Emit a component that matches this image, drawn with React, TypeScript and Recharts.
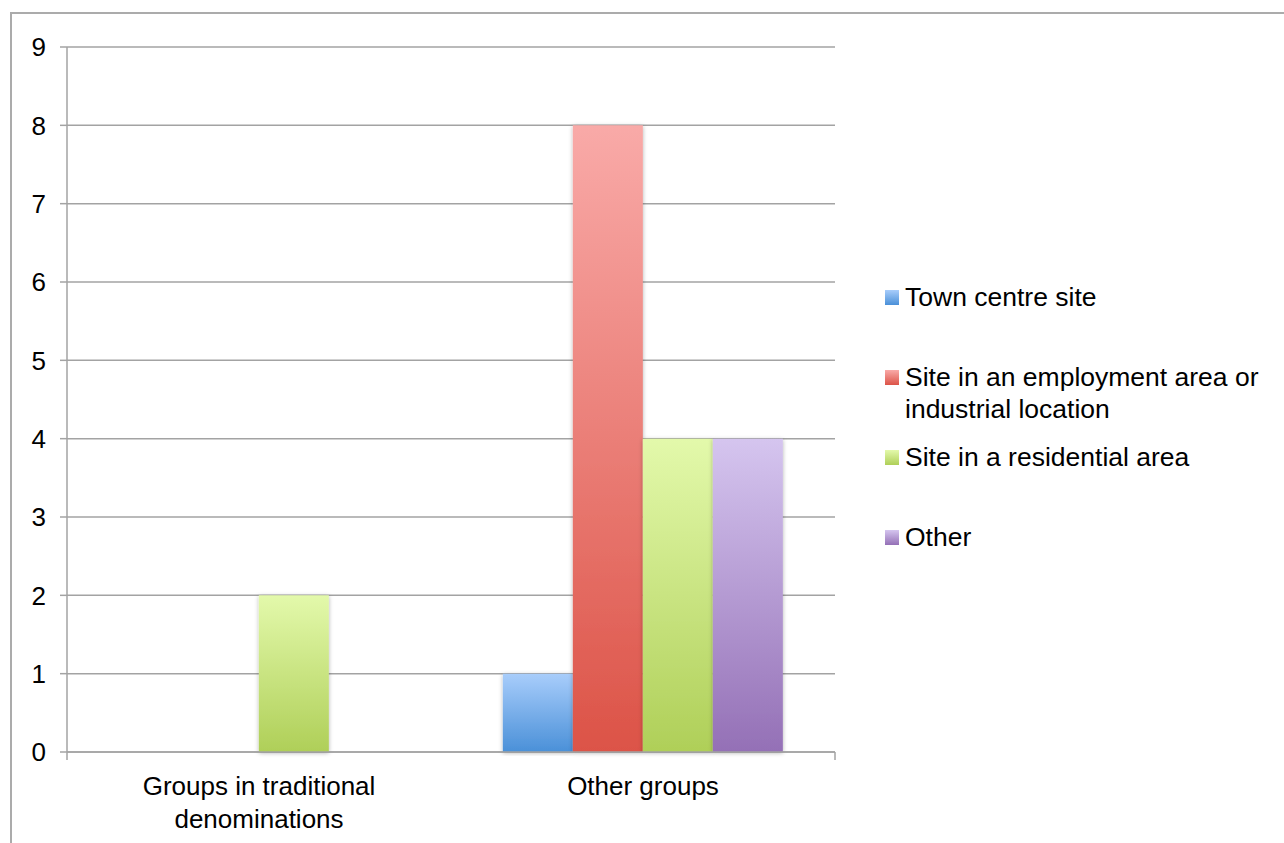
import React from 'react';
import { BarChart, Bar, XAxis, YAxis, CartesianGrid } from 'recharts';

const categories = ['Groups in traditional denominations', 'Other groups'];
const townCentre = [0, 1];
const employmentArea = [0, 8];
const residentialArea = [2, 4];
const otherSite = [0, 4];
const yTicks = [0, 1, 2, 3, 4, 5, 6, 7, 8, 9];

const seriesNames = [
  'Town centre site',
  'Site in an employment area or industrial location',
  'Site in a residential area',
  'Other',
];
const seriesKeys = ['town', 'employment', 'residential', 'other'];
// [top, bottom] of each bar's gradient
const seriesColors = [
  ['#a8cdfb', '#4a90d8'],
  ['#f9aaa8', '#dc5347'],
  ['#e3f9ab', '#afcf58'],
  ['#d5c5ef', '#9470b6'],
];

const data = categories.map((name, i) => ({
  name,
  town: townCentre[i],
  employment: employmentArea[i],
  residential: residentialArea[i],
  other: otherSite[i],
}));

const FONT = '"Liberation Sans", Arial, sans-serif';
const GRID = '#a3a3a3';

// greedy word wrap, roughly 22 chars per line
function wrap(label: string, max = 22): string[] {
  const lines: string[] = [];
  let cur = '';
  label.split(' ').forEach(w => {
    if (cur && (cur + ' ' + w).length > max) {
      lines.push(cur);
      cur = w;
    } else {
      cur = cur ? cur + ' ' + w : w;
    }
  });
  if (cur) lines.push(cur);
  return lines;
}

const CategoryTick = ({ x, y, payload }: any) => (
  <text x={x} y={y} textAnchor="middle" style={{ fontSize: 26, fontFamily: FONT, fill: '#000' }}>
    {wrap(String(payload.value)).map((line, i) => (
      <tspan key={i} x={x} dy={i === 0 ? 43 : 33}>
        {line}
      </tspan>
    ))}
  </text>
);

const LegendBox = () => (
  <div style={{ position: 'absolute', left: 885, top: 281, fontFamily: FONT, fontSize: 26.5, color: '#000', lineHeight: '32px' }}>
    {seriesNames.map((name, i) => (
      <div key={name} style={{ position: 'absolute', left: 0, top: i * 80, display: 'flex', width: 399 }}>
        <div
          style={{
            width: 14,
            height: 15,
            marginTop: 9,
            marginRight: 6,
            flex: 'none',
            background: `linear-gradient(${seriesColors[i][0]}, ${seriesColors[i][1]})`,
          }}
        />
        <div style={{ maxWidth: 375, whiteSpace: 'normal' }}>{name}</div>
      </div>
    ))}
  </div>
);

export default function App(): React.JSX.Element {
  return (
    <div style={{ position: 'absolute', left: 0, top: 0, width: 1284, height: 843, background: '#fff', overflow: 'hidden' }}>
      <div
        style={{
          position: 'absolute',
          left: 10,
          top: 12,
          right: 0,
          bottom: 0,
          borderLeft: `2px solid #ababab`,
          borderTop: `2px solid #ababab`,
        }}
      />
      <div style={{ position: 'absolute', left: 0, top: 0 }}>
        <BarChart
          width={1284}
          height={843}
          data={data}
          margin={{ top: 47, right: 449, bottom: 83, left: 0 }}
          barCategoryGap="13.5%"
          barGap={0}
        >
          <defs>
            {seriesKeys.map((k, i) => (
              <linearGradient key={k} id={`grad-${k}`} x1="0" y1="0" x2="0" y2="1">
                <stop offset="0%" stopColor={seriesColors[i][0]} />
                <stop offset="100%" stopColor={seriesColors[i][1]} />
              </linearGradient>
            ))}
            <filter id="barShadow" x="-10%" y="-5%" width="120%" height="110%">
              <feDropShadow dx="0" dy="1" stdDeviation="2" floodColor="#000" floodOpacity="0.3" />
            </filter>
          </defs>
          <CartesianGrid vertical={false} stroke={GRID} strokeWidth={1.5} />
          <XAxis
            dataKey="name"
            height={8}
            tickLine={false}
            tickSize={0}
            tickMargin={0}
            axisLine={{ stroke: GRID, strokeWidth: 1.5 }}
            tick={<CategoryTick />}
            interval={0}
          />
          {/* second axis only for the tick marks at the category edges */}
          <XAxis
            xAxisId="edges"
            type="number"
            mirror
            domain={[0, categories.length]}
            ticks={categories.map((_, i) => i).concat(categories.length)}
            tick={() => <g />}
            tickSize={-8}
            axisLine={false}
            tickLine={{ stroke: GRID, strokeWidth: 1.5 }}
            height={8}
            allowDataOverflow
          />
          <YAxis
            width={67}
            domain={[0, 9]}
            ticks={yTicks}
            interval={0}
            tickSize={7}
            tickMargin={14}
            axisLine={{ stroke: GRID, strokeWidth: 1.5 }}
            tickLine={{ stroke: GRID, strokeWidth: 1.5 }}
            tick={{ fontSize: 26, fontFamily: FONT, fill: '#000' }}
          />
          {seriesKeys.map((k, i) => (
            <Bar
              key={k}
              dataKey={k}
              name={seriesNames[i]}
              fill={`url(#grad-${k})`}
              filter="url(#barShadow)"
              isAnimationActive={false}
            />
          ))}
        </BarChart>
      </div>
      <LegendBox />
    </div>
  );
}
